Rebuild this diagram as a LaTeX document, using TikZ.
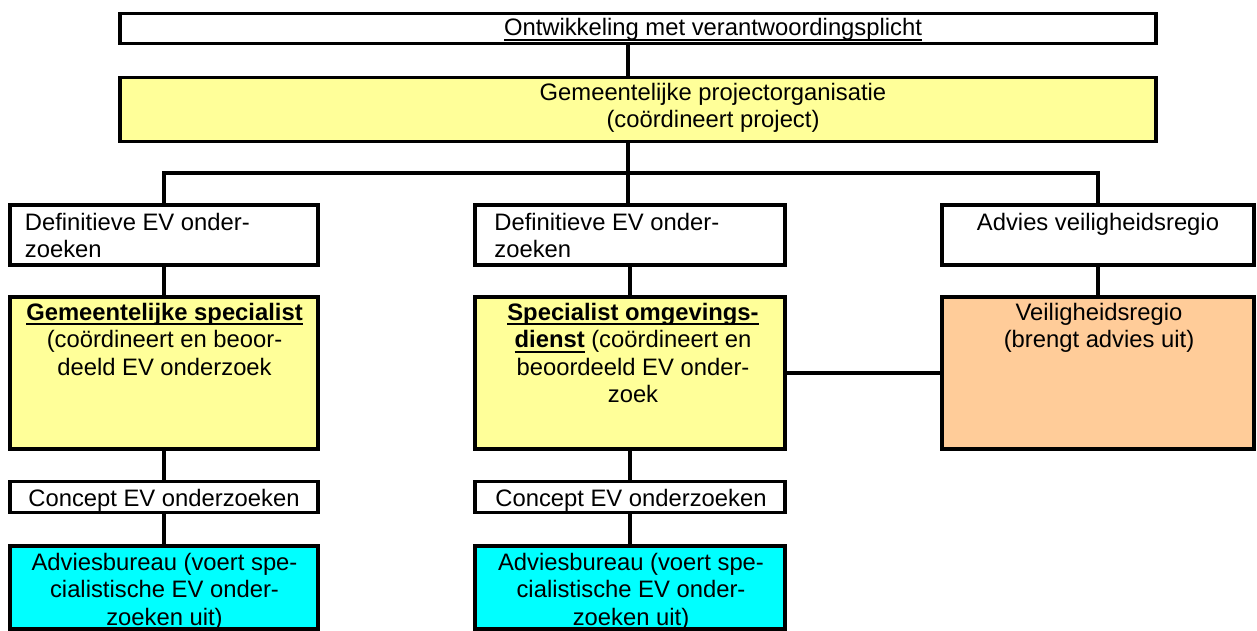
\documentclass[tikz,border=0pt]{standalone}
\usepackage{fontspec}
\setmainfont{Liberation Sans}
\usepackage{tikz}

\definecolor{lichtgeel}{HTML}{FFFF99}
\definecolor{lichtoranje}{HTML}{FFCC99}
\definecolor{cyaan}{HTML}{00FFFF}

% underline at a fixed depth below the baseline
\newcommand{\ondlijn}[2][0.75pt]{\setbox0\hbox{#2}\rlap{\rule[-2.4pt]{\wd0}{#1}}\box0\relax}

\tikzset{
  orgbox/.style={draw, line width=1.9pt, inner sep=0pt, outer sep=0pt, minimum width=#1},
  orgbox/.default=155pt,
  txt/.style={inner sep=0pt, font=\fontsize{11.9}{13.6}\selectfont, align=center},
  verbinding/.style={line width=1.9pt}
}

\begin{document}
\begin{tikzpicture}[x=0.5pt, y=-0.5pt]
		  \useasboundingbox (0,0) rectangle (1257,631);

		  % Boxes
		  \node[orgbox=518pt, minimum height=15pt] (ontw) at (638,28.5) {};
		  \node[orgbox=518pt, minimum height=32pt, fill=lichtgeel] (proj) at (638,109.5) {};
		  \node[orgbox=154pt, minimum height=29.75pt] (defL) at (164,235) {};
		  \node[orgbox=155pt, minimum height=29.75pt] (defM) at (630,235) {};
		  \node[orgbox=156pt, minimum height=29.75pt] (advV) at (1098,235) {};
		  \node[orgbox=154pt, minimum height=76.25pt, fill=lichtgeel] (gspec) at (164,373) {};
		  \node[orgbox=155pt, minimum height=76.25pt, fill=lichtgeel] (sspec) at (630,373) {};
		  \node[orgbox=156pt, minimum height=76.25pt, fill=lichtoranje] (vreg) at (1098,373) {};
		  \node[orgbox=154pt, minimum height=15.5pt] (concL) at (164,497) {};
		  \node[orgbox=155pt, minimum height=15.5pt] (concM) at (630,497) {};
		  \node[orgbox=154pt, minimum height=41.75pt, fill=cyaan] (burL) at (164,587.5) {};
		  \node[orgbox=155pt, minimum height=41.75pt, fill=cyaan] (burM) at (630,587.5) {};
		  \coordinate (spine) at (628,173);

		  % Texts
		  \node[txt, anchor=base] (ontwt) at (713,36) {\ondlijn{Ontwikkeling met verantwoordingsplicht}};
		  \node[txt, anchor=north] (projt) at (713,83) {Gemeentelijke projectorganisatie\\(coördineert project)};
		  \node[txt, anchor=north west, align=left] (defLt) at (24.5,213) {Definitieve EV onder-\\zoeken};
		  \node[txt, anchor=north west, align=left] (defMt) at (494,213) {Definitieve EV onder-\\zoeken};
		  \node[txt, anchor=north] (advVt) at (1098,213) {Advies veiligheidsregio};
		  \node[txt, anchor=north] (gspect) at (164.5,303) {\ondlijn[1pt]{\textbf{Gemeentelijke specialist}}\\(coördineert en beoor-\\deeld EV onderzoek};
		  \node[txt, anchor=north] (sspect) at (633,303) {\ondlijn[1pt]{\textbf{Specialist omgevings-}}\\\ondlijn[1pt]{\textbf{dienst}} (coördineert en\\beoordeeld EV onder-\\zoek};
		  \node[txt, anchor=north] (vregt) at (1099,303) {Veiligheidsregio\\(brengt advies uit)};
		  \node[txt, anchor=north] (concLt) at (164,489) {Concept EV onderzoeken};
		  \node[txt, anchor=north] (concMt) at (631,489) {Concept EV onderzoeken};
		  \node[txt, anchor=north] (burLt) at (164.5,553) {Adviesbureau (voert spe-\\cialistische EV onder-\\zoeken uit)};
		  \node[txt, anchor=north] (burMt) at (631,553) {Adviesbureau (voert spe-\\cialistische EV onder-\\zoeken uit)};

		  % Lines
		  \draw[verbinding] (ontw.south -| spine) -- (proj.north -| spine);
		  \draw[verbinding] (proj.south -| spine) -- (spine);
		  \draw[verbinding] (defL.north) |- (spine) -| (advV.north);
		  \draw[verbinding] (spine) -- (spine |- defM.north);
		  \draw[verbinding] (defL.south) -- (gspec.north);
		  \draw[verbinding] (defM.south) -- (sspec.north);
		  \draw[verbinding] (advV.south) -- (vreg.north);
		  \draw[verbinding] (sspec.east) -- (vreg.west);
		  \draw[verbinding] (gspec.south) -- (concL.north);
		  \draw[verbinding] (sspec.south) -- (concM.north);
		  \draw[verbinding] (concL.south) -- (burL.north);
		  \draw[verbinding] (concM.south) -- (burM.north);
		\end{tikzpicture}
\end{document}
